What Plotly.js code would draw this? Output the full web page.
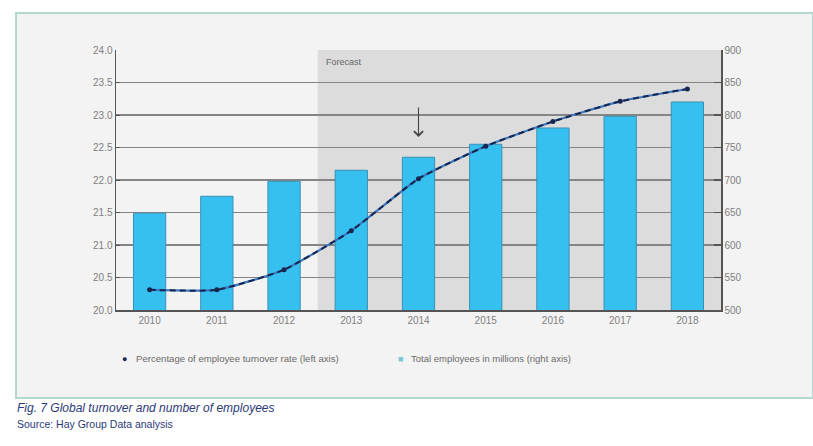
<!DOCTYPE html>
<html>
<head>
<meta charset="utf-8">
<script src="https://cdn.plot.ly/plotly-3.0.1.min.js"></script>
<style>html,body{margin:0;padding:0;background:#fff;}#chart{width:813px;height:446px;}</style>
</head>
<body>
<div id="chart"></div>
<script>
const years = ['2010','2011','2012','2013','2014','2015','2016','2017','2018'];
const turnoverRate = [20.31, 20.31, 20.62, 21.22, 22.02, 22.52, 22.9, 23.21, 23.4];
const totalEmployees = [649, 675, 698, 715, 735, 755, 780, 798, 820];
const leftTicks = [20.0, 20.5, 21.0, 21.5, 22.0, 22.5, 23.0, 23.5, 24.0];
const rightTicks = [500, 550, 600, 650, 700, 750, 800, 850, 900];
const gridTicks = [550, 600, 650, 700, 750, 800, 850];
const forecastStart = '2013';
const arrowYear = '2014';
const legendLine = 'Percentage of employee turnover rate (left axis)';
const legendBar = 'Total employees in millions (right axis)';
const captionTitle = 'Fig. 7 Global turnover and number of employees';
const captionSource = 'Source: Hay Group Data analysis';

const FONT = 'Liberation Sans, Arial, sans-serif';
const tickFont = {family: FONT, size: 10, color: '#808080'};

const traces = [
  {
    type: 'scatter', mode: 'lines', x: [], y: [], yaxis: 'y3',
    hoverinfo: 'skip', showlegend: false
  },
  {
    type: 'bar', x: years, y: totalEmployees, yaxis: 'y',
    marker: {color: '#35c0ef', line: {color: '#3b8fb3', width: 1}},
    hoverinfo: 'skip', showlegend: false
  },
  {
    type: 'scatter', mode: 'lines', x: years, y: turnoverRate, yaxis: 'y2',
    line: {color: '#3a78bf', width: 2.2, shape: 'spline', smoothing: 0.5},
    hoverinfo: 'skip', showlegend: false
  },
  {
    type: 'scatter', mode: 'lines+markers', x: years, y: turnoverRate, yaxis: 'y2',
    line: {color: '#17264f', width: 2, dash: '6px,4px', shape: 'spline', smoothing: 0.5},
    marker: {color: '#17264f', size: 5},
    hoverinfo: 'skip', showlegend: false
  }
];

const fsIdx = years.indexOf(forecastStart);
const arrowIdx = years.indexOf(arrowYear);

const layout = {
  width: 813, height: 446,
  margin: {l: 116, r: 92, t: 50, b: 136},
  paper_bgcolor: '#ffffff',
  plot_bgcolor: 'rgba(0,0,0,0)',
  bargap: 0.52,
  xaxis: {
    type: 'category', range: [-0.5, years.length - 0.5],
    showline: true, linecolor: '#555', linewidth: 1.5,
    ticks: '', tickfont: tickFont, showgrid: false, fixedrange: true
  },
  yaxis: {
    side: 'right', range: [500, 900], tickvals: rightTicks,
    ticktext: rightTicks.map(v => String(v)),
    showline: true, linecolor: '#555', linewidth: 1.5,
    ticks: 'inside', ticklen: 7, tickcolor: '#555', tickwidth: 1.5,
    showgrid: false, zeroline: false, tickfont: tickFont, fixedrange: true
  },
  yaxis2: {
    overlaying: 'y', side: 'left', range: [20, 24], tickvals: leftTicks,
    ticktext: leftTicks.map(v => v.toFixed(1)),
    showline: true, linecolor: '#555', linewidth: 1.5,
    ticks: 'inside', ticklen: 4, tickcolor: '#555',
    showgrid: false, zeroline: false, tickfont: tickFont, fixedrange: true
  },
  yaxis3: {
    overlaying: 'y', side: 'right', range: [500, 900], tickvals: gridTicks,
    showticklabels: false, ticks: '', showline: false,
    showgrid: true, gridcolor: '#858585', gridwidth: 1.5, zeroline: false, fixedrange: true
  },
  shapes: [
    {type: 'rect', xref: 'paper', yref: 'paper', x0: -0.1653, x1: 1.152, y0: -0.3385, y1: 1.1423,
     fillcolor: '#f3f3f3', line: {color: '#b2d8cf', width: 2}, layer: 'below'},
    {type: 'rect', xref: 'x', yref: 'paper', x0: fsIdx - 0.5, x1: years.length - 0.5, y0: 0, y1: 1,
     fillcolor: '#dcdcdc', line: {width: 0}, layer: 'below'}
  ],
  annotations: [
    {xref: 'x', yref: 'paper', x: fsIdx - 0.5, y: 0.98, xanchor: 'left', yanchor: 'top', xshift: 6,
     text: 'Forecast', showarrow: false, font: {family: FONT, size: 9, color: '#666'}},
    {xref: 'x', yref: 'paper', x: arrowIdx, y: 0.665, axref: 'pixel', ayref: 'pixel', ax: 0, ay: -31,
     text: '', showarrow: true, standoff: 0, arrowhead: 4, arrowsize: 1.6, arrowwidth: 1.1, arrowcolor: '#444'},
    {xref: 'paper', yref: 'paper', x: 0.006, y: -0.185, xanchor: 'left', yanchor: 'middle', showarrow: false,
     text: '<span style="color:#17264f">●</span>', font: {size: 9}},
    {xref: 'paper', yref: 'paper', x: 0.03, y: -0.185, xanchor: 'left', yanchor: 'middle', showarrow: false,
     text: legendLine, font: {family: FONT, size: 9.6, color: '#6a6a6a'}},
    {xref: 'paper', yref: 'paper', x: 0.462, y: -0.185, xanchor: 'left', yanchor: 'middle', showarrow: false,
     text: '<span style="color:#7cc6d6">■</span>', font: {size: 9}},
    {xref: 'paper', yref: 'paper', x: 0.485, y: -0.185, xanchor: 'left', yanchor: 'middle', showarrow: false,
     text: legendBar, font: {family: FONT, size: 9.5, color: '#6a6a6a'}},
    {xref: 'paper', yref: 'paper', x: -0.167, y: -0.377, xanchor: 'left', yanchor: 'middle', showarrow: false,
     text: '<i>' + captionTitle + '</i>', font: {family: FONT, size: 12, color: '#2b3a78'}},
    {xref: 'paper', yref: 'paper', x: -0.167, y: -0.438, xanchor: 'left', yanchor: 'middle', showarrow: false,
     text: captionSource, font: {family: FONT, size: 10.5, color: '#2b3a78'}}
  ]
};

Plotly.newPlot('chart', traces, layout, {displayModeBar: false, staticPlot: true});
</script>
</body>
</html>
